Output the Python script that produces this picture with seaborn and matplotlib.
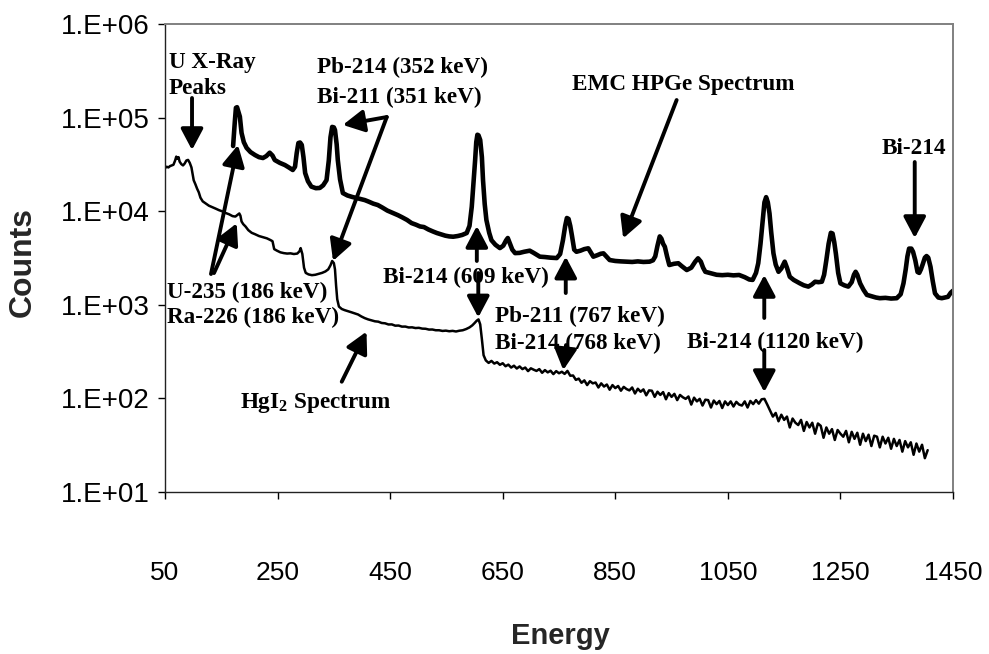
import matplotlib
matplotlib.use("Agg")
import matplotlib.pyplot as plt
import pandas as pd
import seaborn as sns

# ---------------- data ----------------
hpge_energy = [171, 174, 176, 178, 180, 183, 186, 190, 195, 202, 210, 217, 224, 230, 236, 241, 245,
               254, 263, 270, 277, 281, 284, 287, 290, 293, 296, 299, 304, 310, 318, 325, 331, 337,
               341, 344, 347, 350, 352, 355, 357, 361, 366, 374, 382, 390, 398, 405, 412, 420, 428,
               436, 445, 455, 464, 472, 480, 488, 496, 503, 510, 518, 526, 533, 540, 548, 555, 562,
               570, 578, 586, 591, 595, 598, 601, 603, 605, 607, 610, 613, 615, 618, 621, 626, 630,
               637, 645, 651, 656, 659, 663, 667, 672, 680, 688, 698, 705, 716, 725, 735, 746, 752,
               757, 761, 764, 767, 770, 773, 777, 781, 788, 795, 802, 807, 811, 818, 824, 829, 835,
               840, 850, 860, 870, 880, 890, 900, 911, 917, 921, 925, 929, 932, 935, 938, 942, 946,
               954, 962, 968, 977, 985, 992, 997, 1002, 1006, 1010, 1020, 1030, 1040, 1050, 1060,
               1070, 1080, 1088, 1094, 1100, 1104, 1108, 1112, 1115, 1118, 1121, 1124, 1127, 1131,
               1135, 1140, 1145, 1151, 1155, 1160, 1167, 1178, 1185, 1193, 1199, 1205, 1211, 1217,
               1221, 1225, 1229, 1233, 1236, 1239, 1242, 1246, 1250, 1257, 1264, 1270, 1274, 1277,
               1280, 1285, 1291, 1297, 1305, 1313, 1320, 1330, 1340, 1350, 1357, 1362, 1366, 1369,
               1372, 1376, 1379, 1383, 1387, 1390, 1393, 1396, 1400, 1403, 1406, 1410, 1414, 1418,
               1424, 1430, 1436, 1441, 1446, 1450]
hpge_counts = [50000, 90000, 128000, 130000, 118000, 103000, 69000, 55000, 47700, 43000, 40000,
               38000, 37200, 39000, 42400, 39500, 35400, 33000, 31300, 29500, 27700, 30000, 42000,
               53800, 54500, 51300, 38000, 25700, 21000, 18400, 17700, 17800, 19000, 21600, 35000,
               62000, 80000, 79000, 74000, 52000, 35400, 22000, 15700, 14800, 14300, 13900, 13500,
               13200, 12700, 12100, 11700, 11000, 10200, 9600, 9100, 8600, 8100, 7500, 7200, 6900,
               6800, 6400, 6100, 5870, 5700, 5500, 5400, 5360, 5450, 5600, 5870, 7000, 11200, 20000,
               35400, 55000, 66000, 65000, 58000, 38000, 21600, 12000, 8100, 5900, 4920, 4400, 4050,
               4300, 4900, 5190, 4500, 3900, 3580, 3600, 3700, 3800, 3600, 3280, 3250, 3200, 3170,
               3500, 4920, 7000, 8500, 8300, 7000, 5500, 3900, 3700, 3800, 3950, 4030, 3600, 3280,
               3400, 3520, 3560, 3250, 3020, 2950, 2920, 2900, 2880, 2920, 2880, 2900, 3000, 3300,
               4300, 5400, 5100, 4500, 4190, 3300, 2670, 2750, 2790, 2600, 2360, 2500, 2900, 3150,
               2900, 2500, 2260, 2180, 2100, 2080, 2100, 2070, 2090, 1980, 1870, 1850, 2200, 2790,
               4500, 8100, 12500, 14200, 12500, 9500, 6000, 3560, 2700, 2260, 2450, 2900, 2500,
               2000, 1850, 1700, 1620, 1570, 1650, 1770, 1750, 1770, 2100, 3020, 4500, 5900, 5800,
               4700, 3500, 2200, 1700, 1620, 1570, 1750, 2100, 2260, 2100, 1700, 1450, 1280, 1240,
               1200, 1180, 1190, 1170, 1180, 1300, 1700, 2400, 3300, 4000, 4000, 3700, 3000, 2250,
               2200, 2400, 2700, 3200, 3330, 3200, 2560, 1800, 1330, 1200, 1180, 1200, 1220, 1350,
               1420]

hgi2_energy = [50, 53, 56, 59, 62, 65, 68, 70, 72, 74,
               76, 79, 82, 85, 88, 91, 94, 97, 99, 101,
               104, 107, 110, 113, 117, 122, 128, 134, 140, 146,
               152, 158, 164, 170, 175, 179, 182, 184, 186, 189,
               193, 198, 204, 210, 217, 224, 231, 237, 241, 244,
               249, 255, 261, 267, 273, 279, 285, 289, 291, 294,
               297, 300, 305, 311, 317, 323, 329, 335, 340, 344,
               347, 350, 352, 354, 356, 359, 364, 369, 375, 381,
               387, 393, 399, 405, 411, 417, 423, 429, 435, 441,
               447, 453, 459, 465, 471, 477, 483, 489, 495, 501,
               507, 513, 519, 525, 531, 537, 543, 549, 555, 561,
               567, 573, 579, 585, 591, 596, 600, 604, 607, 610,
               613, 616,
               620, 625, 630, 635, 640, 645, 650, 655, 660, 665,
               670, 675, 680, 685, 690, 695, 700, 705, 710, 715,
               720, 725, 730, 735, 740, 745, 750, 755, 760, 765,
               770, 775, 780, 785, 790, 795, 800, 805, 810, 815,
               820, 825, 830, 835, 840, 845, 850, 855, 860, 865,
               870, 875, 880, 885, 890, 895, 900, 905, 910, 915,
               920, 925, 930, 935, 940, 945, 950, 955, 960, 965,
               970, 975, 980, 985, 990, 995, 1000, 1005, 1010, 1015,
               1020, 1025, 1030, 1035, 1040, 1045, 1050, 1055, 1060, 1065,
               1070, 1075, 1080, 1085, 1090, 1095, 1100, 1105, 1110, 1115,
               1120, 1125, 1130, 1135, 1140, 1145, 1150, 1155, 1160, 1165,
               1170, 1175, 1180, 1185, 1190, 1195, 1200, 1205, 1210, 1215,
               1220, 1225, 1230, 1235, 1240, 1245, 1250, 1255, 1260, 1265,
               1270, 1275, 1280, 1285, 1290, 1295, 1300, 1305, 1310, 1315,
               1320, 1325, 1330, 1335, 1340, 1345, 1350, 1355, 1360, 1365,
               1370, 1375, 1380, 1385, 1390, 1395, 1400, 1405]
hgi2_counts = [29000, 30000, 29500, 30500, 31000, 31500, 35000, 38500, 36500, 38000,
               34000, 32000, 31000, 32500, 35000, 35500, 33000, 29500, 25000, 21500,
               19500, 17500, 16000, 14000, 12800, 12200, 11500, 11100, 10700, 10300,
               10000, 9600, 9300, 8900, 8800, 9200, 9500, 9000, 7800, 7300,
               6900, 6300, 5900, 5700, 5450, 5300, 5150, 4950, 4800, 3950,
               3800, 3650, 3580, 3540, 3560, 3500, 3540, 3750, 4050, 3500,
               2500, 2200, 2120, 2080, 2100, 2150, 2200, 2280, 2400, 2650,
               2950, 2800, 2400, 1600, 1150, 960, 905, 880, 858, 835,
               812, 790, 752, 722, 700, 684, 668, 662, 641, 636,
               618, 619, 600, 602, 586, 587, 574, 576, 566, 569,
               558, 556, 545, 546, 536, 536, 527, 531, 523, 528,
               520, 530, 536, 552, 575, 605, 640, 680, 700, 620,
               430, 290,
               255, 240, 252, 236, 244, 229, 238, 221, 230, 214,
               224, 209, 220, 206, 214, 196, 210, 203, 197, 206,
               188, 201, 190, 198, 182, 196, 186, 193, 183, 197,
               175, 176, 158, 163, 147, 156, 139, 153, 145, 148,
               131, 145, 134, 141, 124, 139, 129, 136, 121, 133,
               126, 122, 131, 113, 127, 118, 125, 108, 122, 121,
               104, 118, 109, 117, 98, 114, 104, 112, 96, 109,
               103, 99, 105, 86, 102, 93, 99, 84, 97, 96,
               80, 95, 87, 94, 79, 93, 85, 93, 82, 92,
               86, 84, 93, 80, 94, 87, 96, 88, 98, 99,
               86, 74, 64, 70, 57, 67, 59, 64, 49, 61,
               55, 52, 59, 45, 56, 49, 55, 42, 54, 51,
               38, 49, 42, 47, 36, 46, 42, 39, 45, 34,
               44, 37, 43, 32, 42, 35, 41, 31, 40, 39,
               30, 39, 33, 38, 29, 37, 31, 36, 27, 35,
               30, 34, 25, 33, 27, 32, 23, 28]

x_ticks = [50, 250, 450, 650, 850, 1050, 1250, 1450]
y_ticks = [1e1, 1e2, 1e3, 1e4, 1e5, 1e6]
y_tick_labels = ["1.E+01", "1.E+02", "1.E+03", "1.E+04", "1.E+05", "1.E+06"]

# ---------------- style ----------------
sns.set_theme(style="white")
plt.rcParams["font.family"] = ["Liberation Sans", "DejaVu Sans"]
SERIF = ["Liberation Serif", "DejaVu Serif"]
ANN = dict(fontfamily=SERIF, fontweight="bold", fontsize=16.7, color="black")

fig = plt.figure(figsize=(9.89, 6.54), dpi=100)
fig.patch.set_facecolor("white")
ax = fig.add_axes([165 / 989, 1 - 492 / 654, 788 / 989, (492 - 24.3) / 654])

hgi2 = pd.DataFrame({"Energy": hgi2_energy, "Counts": hgi2_counts})
hpge = pd.DataFrame({"Energy": hpge_energy, "Counts": hpge_counts})
sns.lineplot(data=hgi2, x="Energy", y="Counts", ax=ax, color="black", lw=1.8,
             estimator=None, sort=False)
sns.lineplot(data=hpge, x="Energy", y="Counts", ax=ax, color="black", lw=3.3,
             estimator=None, sort=False)

ax.set_yscale("log")
ax.set_xlim(50, 1450)
ax.set_ylim(10, 1e6)
ax.set_yticks(y_ticks)
ax.set_yticklabels(y_tick_labels, fontsize=20)
ax.minorticks_off()
ax.set_xticks(x_ticks)
ax.set_xticklabels([str(t) for t in x_ticks], fontsize=19)
ax.tick_params(axis="y", left=True, direction="out", length=5, width=1, pad=6, colors="black")
ax.tick_params(axis="x", bottom=True, direction="out", length=5, width=1, pad=45, colors="black")
ax.set_xlabel("")
ax.set_ylabel("")
for s in ["left", "bottom"]:
    ax.spines[s].set_color("#222222")
    ax.spines[s].set_linewidth(1.0)
for s in ["top", "right"]:
    ax.spines[s].set_color("#808080")
    ax.spines[s].set_linewidth(1.4)

fig.text(23 / 989, 1 - 262 / 654, "Counts", rotation=90, ha="center", va="center",
         fontsize=23, fontweight="bold")
fig.text(560 / 989, 1 - 636 / 654, "Energy", ha="center", va="center",
         fontsize=21, fontweight="bold")


def label(x, y, s, ha="left"):
    ax.text(x, y, s, ha=ha, va="baseline", zorder=4, **ANN)


def arrow(x0, y0, x1, y1):
    ax.annotate("", xy=(x1, y1), xytext=(x0, y0), zorder=5,
                arrowprops=dict(arrowstyle="-|>,head_length=0.85,head_width=0.45",
                                mutation_scale=15, lw=2.8, color="black",
                                shrinkA=0, shrinkB=0))


label(57, 3.45e5, "U X-Ray")
label(57, 1.80e5, "Peaks")
arrow(98, 1.63e5, 98, 4.53e4)

label(320, 2.99e5, "Pb-214 (352 keV)")
label(320, 1.43e5, "Bi-211 (351 keV)")
arrow(444, 1.02e5, 366, 8.4e4)
arrow(444, 1.02e5, 348.5, 2.95e3)

label(773, 1.99e5, "EMC HPGe Spectrum")
arrow(959, 1.55e5, 864, 5.15e3)

label(1381, 4.1e4, "Bi-214", ha="center")
arrow(1382, 3.37e4, 1382, 5.19e3)

label(53.6, 1178, "U-235 (186 keV)")
label(53.6, 646, "Ra-226 (186 keV)")
arrow(131.7, 2.14e3, 179.7, 5.13e4)
arrow(137, 2.19e3, 177.4, 7.46e3)

label(437, 1703, "Bi-214 (609 keV)")
arrow(604, 2.95e3, 604, 6.98e3)
arrow(606.6, 2.19e3, 606.6, 735)

label(636, 662, "Pb-211 (767 keV)")
label(636, 336, "Bi-214 (768 keV)")
arrow(762, 1.34e3, 762, 3.28e3)
arrow(762.4, 372, 757.6, 201)

label(977, 344, "Bi-214 (1120 keV)")
arrow(1114.7, 725, 1114.7, 2.09e3)
arrow(1114.7, 330, 1114.7, 117)

label(183, 78.5, r"HgI$_\mathregular{2}$ Spectrum")
arrow(364, 151, 408, 518)

fig.savefig("out.png", dpi=100, facecolor="white")
